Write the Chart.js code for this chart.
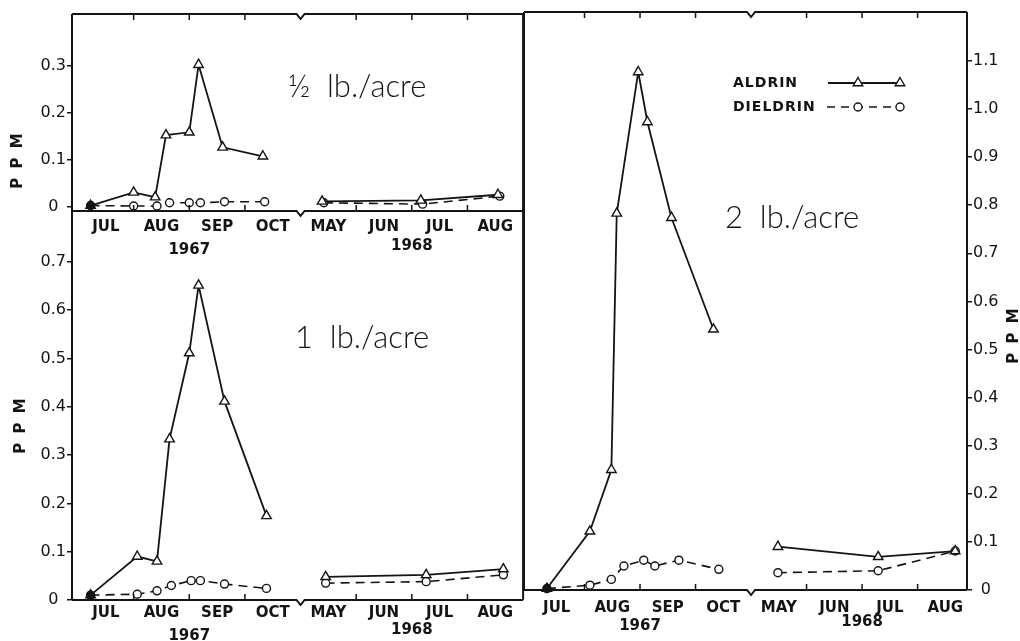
<!DOCTYPE html>
<html><head><meta charset="utf-8">
<script src="https://cdn.jsdelivr.net/npm/chart.js@4.4.1/dist/chart.umd.min.js"></script>
<style>
html,body{margin:0;padding:0;background:#fff;width:1020px;height:641px;overflow:hidden}
canvas{position:absolute}
#c1{left:0;top:0}
#c2{left:0;top:200px}
#c3{left:517px;top:0}
</style></head><body>
<canvas id="c2" width="530" height="441"></canvas>
<canvas id="c1" width="530" height="260"></canvas>
<canvas id="c3" width="503" height="641"></canvas>
<script>
// ---------- data ----------
const monthLabels1967 = ['JUL','AUG','SEP','OCT'];
const monthLabels1968 = ['MAY','JUN','JUL','AUG'];
const yearLabels = ['1967','1968'];
const seriesNames = ['ALDRIN','DIELDRIN'];
const panelTitles = ['\u00BD  lb./acre','1  lb./acre','2  lb./acre'];
const yLabel = 'P P M';

const ticksHalf = [0, 0.1, 0.2, 0.3];
const ticksOne  = [0, 0.1, 0.2, 0.3, 0.4, 0.5, 0.6, 0.7];
const ticksTwo  = [0, 0.1, 0.2, 0.3, 0.4, 0.5, 0.6, 0.7, 0.8, 0.9, 1.0, 1.1];

// 1/2 lb/acre
const halfAldrinDates   = ['1967-07-08','1967-08-01','1967-08-13','1967-08-19','1967-09-01','1967-09-06','1967-09-19','1967-10-11','1968-05-13','1968-07-06','1968-08-18'];
const halfAldrinPPM     = [0.002, 0.030, 0.020, 0.152, 0.158, 0.302, 0.126, 0.107, 0.011, 0.013, 0.025];
const halfDieldrinDates = ['1967-07-08','1967-08-01','1967-08-14','1967-08-21','1967-09-01','1967-09-07','1967-09-20','1967-10-12','1968-05-14','1968-07-07','1968-08-19'];
const halfDieldrinPPM   = [0.002, 0.001, 0.001, 0.008, 0.008, 0.008, 0.010, 0.010, 0.008, 0.005, 0.022];

// 1 lb/acre
const oneAldrinDates   = ['1967-07-08','1967-08-03','1967-08-14','1967-08-21','1967-09-01','1967-09-06','1967-09-20','1967-10-13','1968-05-15','1968-07-09','1968-08-21'];
const oneAldrinPPM     = [0.010, 0.090, 0.080, 0.333, 0.511, 0.651, 0.411, 0.174, 0.048, 0.052, 0.064];
const oneDieldrinDates = ['1967-07-08','1967-08-03','1967-08-14','1967-08-22','1967-09-02','1967-09-07','1967-09-20','1967-10-13','1968-05-15','1968-07-09','1968-08-21'];
const oneDieldrinPPM   = [0.010, 0.012, 0.019, 0.030, 0.040, 0.040, 0.033, 0.024, 0.035, 0.038, 0.052];

// 2 lb/acre
const twoAldrinDates   = ['1967-07-11','1967-08-04','1967-08-16','1967-08-19','1967-08-31','1967-09-05','1967-09-18','1967-10-11','1968-05-16','1968-07-10','1968-08-22'];
const twoAldrinPPM     = [0.003, 0.122, 0.250, 0.783, 1.077, 0.973, 0.774, 0.542, 0.090, 0.069, 0.081];
const twoDieldrinDates = ['1967-07-11','1967-08-04','1967-08-16','1967-08-23','1967-09-03','1967-09-09','1967-09-22','1967-10-14','1968-05-16','1968-07-10','1968-08-22'];
const twoDieldrinPPM   = [0.003, 0.010, 0.022, 0.050, 0.062, 0.050, 0.062, 0.043, 0.036, 0.040, 0.081];

// ---------- broken time axis: Jul-Oct 1967 | May-Aug 1968 ----------
const X_BREAK = 4;
function axisPos(s){
  const [y,m,d] = s.split('-').map(Number);
  const days = new Date(y, m, 0).getDate();
  const base = y === 1967 ? m - 7 : X_BREAK + (m - 5);
  return base + (d - 1) / days;
}
function series(dates, values){
  const pts = [];
  dates.forEach((s,i)=>{
    if (i > 0 && s.slice(0,4) !== dates[i-1].slice(0,4)) pts.push({x: X_BREAK, y: null});
    pts.push({x: axisPos(s), y: values[i]});
  });
  return pts;
}
const MONTH_LABELS = monthLabels1967.concat(monthLabels1968);
const MONTH_POS = MONTH_LABELS.map((_,i)=> i + 0.5);
const BOUNDARIES = [1,2,3,5,6,7];
const YEAR_POS = [2, 6];

const INK = '#141414';
Chart.defaults.font.family = "'DejaVu Sans', sans-serif";
Chart.defaults.color = INK;

function tri(ctx, x, y, r){
  ctx.beginPath();
  for (let k=0;k<3;k++){
    const a = -Math.PI/2 + k*2*Math.PI/3;
    const px = x + Math.cos(a)*r, py = y + Math.sin(a)*r;
    k ? ctx.lineTo(px,py) : ctx.moveTo(px,py);
  }
  ctx.closePath(); ctx.fillStyle='#fff'; ctx.fill(); ctx.stroke();
}
function circ(ctx, x, y, r){
  ctx.beginPath(); ctx.arc(x,y,r,0,Math.PI*2); ctx.fillStyle='#fff'; ctx.fill(); ctx.stroke();
}

const decorPlugin = {
  id: 'decor',
  afterDraw(chart, args, o){
    const {ctx, chartArea:a} = chart;
    const x = chart.scales.x;
    const bx = x.getPixelForValue(X_BREAK);
    ctx.save();
    ctx.strokeStyle = INK; ctx.fillStyle = INK;
    ctx.lineWidth = 2; ctx.lineCap = 'butt';
    // frame
    ctx.beginPath();
    ctx.moveTo(a.left, a.top); ctx.lineTo(a.left, a.bottom);
    ctx.moveTo(a.right, a.top); ctx.lineTo(a.right, a.bottom);
    const hline = (y)=>{
      ctx.moveTo(a.left, y); ctx.lineTo(bx-4, y); ctx.lineTo(bx, y+5); ctx.lineTo(bx+4, y); ctx.lineTo(a.right, y);
    };
    hline(a.bottom);
    if (o.topBorder) hline(a.top);
    ctx.stroke();
    // inner ticks at month boundaries
    ctx.lineWidth = 1.5;
    ctx.beginPath();
    BOUNDARIES.forEach(v=>{
      const px = x.getPixelForValue(v);
      ctx.moveTo(px, a.bottom); ctx.lineTo(px, a.bottom-6);
      if (o.topBorder){ ctx.moveTo(px, a.top); ctx.lineTo(px, a.top+6); }
    });
    ctx.stroke();
    // year labels
    ctx.font = 'bold 15px "DejaVu Sans"';
    ctx.textAlign = 'center'; ctx.textBaseline = 'middle';
    yearLabels.forEach((t,i)=>{
      ctx.fillText(t, x.getPixelForValue(YEAR_POS[i]), a.bottom + o.yearDy[i]);
    });
    // PPM axis title
    ctx.save();
    ctx.translate(o.ppm[0], o.ppm[1]); ctx.rotate(-Math.PI/2);
    ctx.font = 'bold 15px "DejaVu Sans"';
    ctx.letterSpacing = '2px';
    ctx.fillText(yLabel, 0, 0);
    ctx.restore();
    // panel title
    ctx.font = '300 31px Lato, "Open Sans", sans-serif';
    ctx.textAlign = 'left'; ctx.textBaseline = 'alphabetic';
    ctx.fillText(o.title, o.titleAt[0], o.titleAt[1]);
    // legend
    if (o.legend){
      const [lx, ly] = o.legend;
      ctx.font = 'bold 14px "DejaVu Sans"';
      ctx.letterSpacing = '1px';
      ctx.textBaseline = 'middle';
      ctx.fillText(seriesNames[0], lx, ly);
      ctx.fillText(seriesNames[1], lx, ly+24);
      ctx.letterSpacing = '0px';
      ctx.lineWidth = 1.8;
      ctx.beginPath(); ctx.moveTo(lx+95, ly); ctx.lineTo(lx+167, ly); ctx.stroke();
      ctx.lineWidth = 1.4;
      tri(ctx, lx+125, ly, 5.5); tri(ctx, lx+167, ly, 5.5);
      ctx.lineWidth = 1.6;
      ctx.setLineDash([8,6]);
      ctx.beginPath(); ctx.moveTo(lx+94, ly+24); ctx.lineTo(lx+167, ly+24); ctx.stroke();
      ctx.setLineDash([]);
      ctx.lineWidth = 1.4;
      circ(ctx, lx+125, ly+24, 4); circ(ctx, lx+167, ly+24, 4);
    }
    ctx.restore();
  }
};

function makePanel(id, c){
  const fillFirst = (ctx)=> ctx.dataIndex === 0 ? INK : '#fff';
  const datasets = [
    {label: seriesNames[0], data: series(c.aDates, c.aVals), borderColor: INK, borderWidth: 1.8,
     pointStyle: 'triangle', pointRadius: 5.5, pointBorderWidth: 1.4, pointBorderColor: INK,
     pointBackgroundColor: fillFirst, tension: 0, spanGaps: false, clip: false},
    {label: seriesNames[1], data: series(c.dDates, c.dVals), borderColor: INK, borderWidth: 1.6, borderDash: [9,6],
     pointStyle: 'circle', pointRadius: 4, pointBorderWidth: 1.4, pointBorderColor: INK,
     pointBackgroundColor: fillFirst, tension: 0, spanGaps: false, clip: false}
  ];
  return new Chart(document.getElementById(id), {
    type: 'line',
    data: {datasets},
    options: {
      responsive: false, animation: false, devicePixelRatio: 1,
      layout: {padding: c.padding},
      plugins: {legend: {display: false}, tooltip: {enabled: false}, decor: c.decor},
      scales: {
        x: {type: 'linear', min: c.xMin, max: c.xMax,
            afterFit: s => { s.height = c.xH; },
            afterBuildTicks: s => { s.ticks = MONTH_POS.map(v => ({value: v})); },
            ticks: {autoSkip: false, maxRotation: 0, minRotation: 0, padding: c.xPad,
                    font: {size: 15, weight: 'bold'}, color: INK,
                    callback: (v, i) => MONTH_LABELS[i]},
            grid: {display: false}, border: {display: false}},
        y: {type: 'linear', position: c.yPos, min: c.yMin, max: c.yMax,
            afterFit: s => { s.width = c.yW; },
            afterBuildTicks: s => { s.ticks = c.yTicks.map(v => ({value: v})); },
            ticks: {crossAlign: 'center', padding: 1, font: {size: 16}, color: INK,
                    callback: v => v === 0 ? '0' : v.toFixed(1)},
            grid: {drawOnChartArea: false, drawTicks: true, tickLength: 5, color: INK, lineWidth: 1.5},
            border: {display: false}}
      }
    },
    plugins: [decorPlugin]
  });
}

makePanel('c1', {
  aDates: halfAldrinDates, aVals: halfAldrinPPM, dDates: halfDieldrinDates, dVals: halfDieldrinPPM,
  padding: {left: 0, right: 6, top: 14, bottom: 0}, xH: 49, yW: 72, yPos: 'left',
  xMin: -0.108, xMax: 8.0, yMin: -0.0096, yMax: 0.41, yTicks: ticksHalf, xPad: -1,
  decor: {topBorder: true, yearDy: [39, 35], ppm: [18, 160], title: panelTitles[0], titleAt: [288, 97]}
});
makePanel('c2', {
  aDates: oneAldrinDates, aVals: oneAldrinPPM, dDates: oneDieldrinDates, dVals: oneDieldrinPPM,
  padding: {left: 0, right: 6, top: 11, bottom: 0}, xH: 41, yW: 72, yPos: 'left',
  xMin: -0.108, xMax: 8.0, yMin: 0, yMax: 0.805, yTicks: ticksOne, xPad: -4,
  decor: {topBorder: false, yearDy: [36, 30], ppm: [21, 225], title: panelTitles[1], titleAt: [295, 148]}
});
makePanel('c3', {
  aDates: twoAldrinDates, aVals: twoAldrinPPM, dDates: twoDieldrinDates, dVals: twoDieldrinPPM,
  padding: {left: 7, right: 0, top: 12, bottom: 0}, xH: 51, yW: 53, yPos: 'right',
  xMin: -0.09, xMax: 7.89, yMin: 0, yMax: 1.2017, yTicks: ticksTwo, xPad: 1,
  decor: {topBorder: true, yearDy: [36, 32], ppm: [497, 335], title: panelTitles[2], titleAt: [208, 228], legend: [216, 83]}
});
</script>
</body></html>
